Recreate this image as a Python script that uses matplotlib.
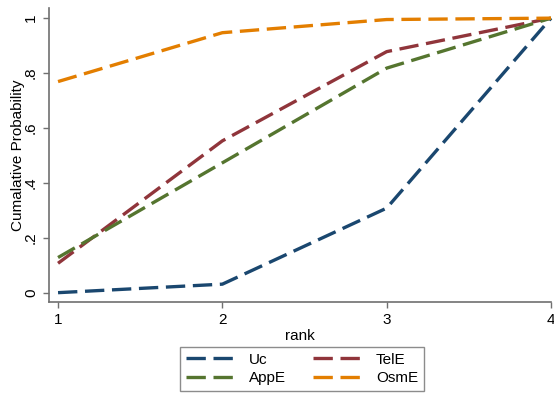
import matplotlib
matplotlib.use("Agg")
import matplotlib.pyplot as plt

rank = [1, 2, 3, 4]
uc = [0.0, 0.031, 0.308, 1.0]
tele = [0.107, 0.553, 0.878, 1.0]
appe = [0.128, 0.473, 0.818, 1.0]
osme = [0.769, 0.947, 0.995, 1.0]
series = [("Uc", uc, "#1a476f"), ("TelE", tele, "#90353b"),
          ("AppE", appe, "#55752f"), ("OsmE", osme, "#e37e00")]
yticks = [0, 0.2, 0.4, 0.6, 0.8, 1.0]
yticklabels = ["0", ".2", ".4", ".6", ".8", "1"]

plt.rcParams['font.family'] = ['Liberation Sans', 'DejaVu Sans']
fig = plt.figure(figsize=(5.54, 4.0), dpi=100)
ax = fig.add_axes([49/554, 1-302/400, 502/554, 294/400])

handles = {}
for name, vals, col in series:
    h, = ax.plot(rank, vals, color=col, lw=2.4, dashes=(5.8, 2.3),
                 solid_joinstyle='round', dash_joinstyle='round', clip_on=False)
    handles[name] = h

ax.set_xlim(0.945, 4.0)
ax.set_ylim(-0.034, 1.037)
ax.set_xticks(rank)
ax.set_yticks(yticks)
ax.set_yticklabels(yticklabels, rotation=90, va='center')
for s in ['top', 'right']:
    ax.spines[s].set_visible(False)
for s in ['left', 'bottom']:
    ax.spines[s].set_color('#707070')
    ax.spines[s].set_linewidth(1.2)
ax.tick_params(colors='#707070', labelcolor='black', labelsize=11, length=4.5, width=1)
ax.set_xlabel("rank", fontsize=11, labelpad=1)
ax.set_ylabel("Cumalative Probability", fontsize=11, labelpad=-1)

order = ["Uc", "AppE", "TelE", "OsmE"]
leg = fig.legend([handles[n] for n in order], order, ncol=2,
                 loc='lower center', bbox_to_anchor=(302/554, 1/400),
                 frameon=True, fancybox=False, edgecolor='#707070',
                 fontsize=11, handlelength=3.5, handletextpad=0.6,
                 columnspacing=1.8, borderpad=0.4, labelspacing=0.3)
leg.get_frame().set_linewidth(1.0)

fig.savefig("out.png", dpi=100)
